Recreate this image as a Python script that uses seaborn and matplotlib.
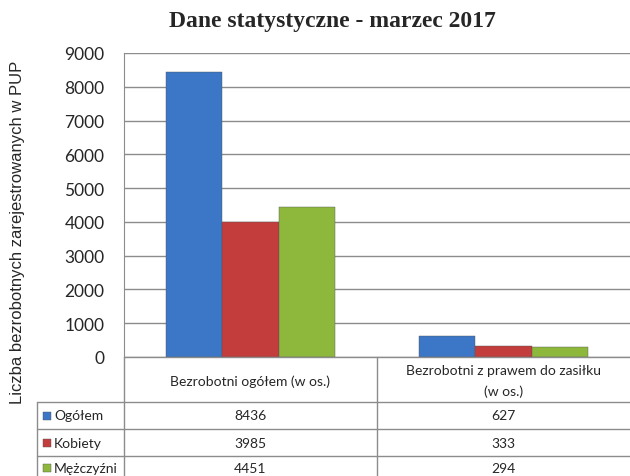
import matplotlib
matplotlib.use("Agg")
import matplotlib.pyplot as plt
from matplotlib.lines import Line2D
from matplotlib.patches import Rectangle
import pandas as pd
import seaborn as sns

# data
categories = ["Bezrobotni ogółem (w os.)", "Bezrobotni z prawem do zasiłku\n(w os.)"]
series = ["Ogółem", "Kobiety", "Mężczyźni"]
ogolem = [8436, 627]
kobiety = [3985, 333]
mezczyzni = [4451, 294]
colors = ["#3b77c6", "#c43d3d", "#8db83c"]
yticks = [0, 1000, 2000, 3000, 4000, 5000, 6000, 7000, 8000, 9000]

df = pd.DataFrame({
    "kategoria": categories * 3,
    "seria": [s for s in series for _ in categories],
    "wartosc": ogolem + kobiety + mezczyzni,
})

W, H = 630, 477
fig = plt.figure(figsize=(W / 100, H / 100), dpi=100)
sns.set_style("white")
plt.rcParams["font.family"] = ["Lato", "DejaVu Sans"]

# plot area in pixel coords
x0, x1, ytop, ybot = 124, 630, 54, 358
ax = fig.add_axes([x0 / W, (H - ybot) / H, (x1 - x0) / W, (ybot - ytop) / H])

sns.barplot(data=df, x="kategoria", y="wartosc", hue="seria", palette=colors,
            width=0.67, saturation=1, ax=ax, legend=False, zorder=3,
            edgecolor="#555555", linewidth=0.3)

ax.set_ylim(0, 9000)
ax.set_yticks(yticks)
ax.set_yticklabels([str(t) for t in yticks], fontsize=12.5)
ax.set_xticks([])
ax.set_xlabel("")
ax.set_ylabel("")
ax.yaxis.grid(True, color="#8c8c8c", lw=1)
ax.set_axisbelow(True)
for side in ["top", "right", "bottom"]:
    ax.spines[side].set_visible(False)
ax.spines["left"].set_color("#8c8c8c")
ax.tick_params(axis="y", length=0, pad=14)

fig.text(332 / W, 1 - 22 / H, "Dane statystyczne - marzec 2017", ha="center", va="center",
         fontsize=17, fontweight="bold", family="Liberation Serif")
fig.text(18 / W, 1 - 232 / H, "Liczba bezrobotnych zarejestrowanych w PUP", rotation=90,
         ha="center", va="center", fontsize=12, family="Liberation Sans")

# data table under the chart
def px(x, y):
    return x / W, 1 - y / H

def line(xa, ya, xb, yb):
    (ax_, ay_), (bx_, by_) = px(xa, ya), px(xb, yb)
    fig.add_artist(Line2D([ax_, bx_], [ay_, by_], color="#8c8c8c", lw=1))

col_x = [x0, 377, x1]
row_y = [ybot, 403, 430, 457, 484]
legend_x = 37

line(x0, ybot, x1, ybot)
for y in row_y[1:]:
    line(legend_x, y, x1, y)
for x in col_x[:2]:
    line(x, ybot, x, H)
line(legend_x, row_y[1], legend_x, H)

for i, cat in enumerate(categories):
    cx = (col_x[i] + col_x[i + 1]) / 2
    fig.text(*px(cx, (row_y[0] + row_y[1]) / 2 + 1), cat, ha="center", va="center",
             fontsize=10, linespacing=1.8)

values = [ogolem, kobiety, mezczyzni]
for r, (name, vals, c) in enumerate(zip(series, values, colors)):
    yc = (row_y[r + 1] + row_y[r + 2]) / 2
    if r == 2:
        yc = 469
    sx, sy = px(43, yc + 4)
    fig.add_artist(Rectangle((sx, sy), 8 / W, 8 / H, transform=fig.transFigure,
                             facecolor=c, edgecolor="#555555", lw=0.3))
    fig.text(*px(54, yc), name, ha="left", va="center", fontsize=10)
    for i, v in enumerate(vals):
        cx = (col_x[i] + col_x[i + 1]) / 2
        fig.text(*px(cx, yc), str(v), ha="center", va="center", fontsize=10)

fig.savefig("out.png", dpi=100)
